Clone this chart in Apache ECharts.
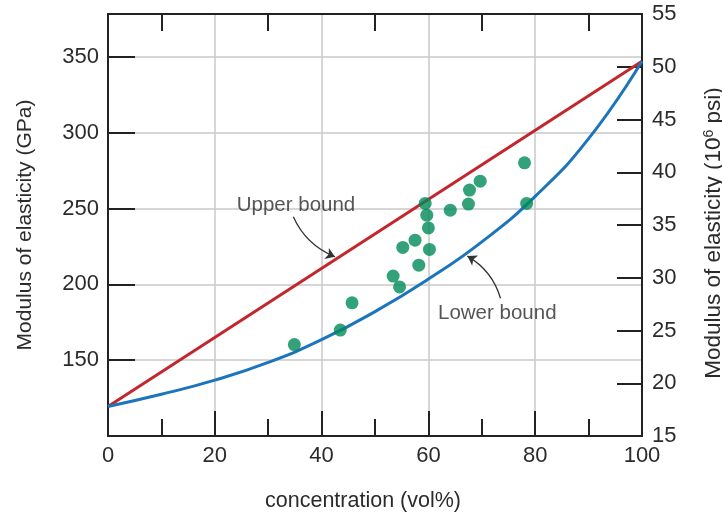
<!DOCTYPE html>
<html><head><meta charset="utf-8">
<script src="https://cdn.jsdelivr.net/npm/echarts@6/dist/echarts.min.js"></script>
<style>html,body{margin:0;padding:0;background:#fff}#c{width:722px;height:516px}</style>
</head><body><div id="c"></div>
<script>
// Upper bound (straight line) read at its ends
const upperX = [0, 100];
const upperGPa = [119.5, 347];
// Lower bound curve
const lowerX = [0, 10, 20, 30, 40, 50, 60, 70, 80, 90, 100];
const lowerGPa = [119.5, 127.5, 136.8, 148.5, 163.5, 182, 203.5, 228, 258, 296, 347];
// Experimental points
const pointX = [34.9, 43.5, 45.7, 53.4, 54.6, 55.2, 57.5, 58.2, 59.4, 59.7, 60.0, 60.2, 64.1, 67.5, 67.7, 69.7, 78.0, 78.4];
const pointGPa = [160.3, 169.8, 187.8, 205.4, 198.3, 224.3, 229.1, 212.6, 253.3, 245.6, 237.2, 223, 248.9, 252.9, 262.1, 268, 280.1, 253.3];
// Annotations
const noteText = ['Upper bound', 'Lower bound'];
const notePos = [[35.2, 252], [72.9, 181]];
const arrowFrom = [[34.7, 244.5], [73.5, 190.8]];
const arrowTo = [[42.5, 218.1], [67.3, 218.6]];
// Tick labels
const gpaTicks = [150, 200, 250, 300, 350];
const psiTicks = [15, 20, 25, 30, 35, 40, 45, 50, 55];
const xTicks = [0, 20, 40, 60, 80, 100];

const FONT = "'Liberation Sans', Arial, sans-serif";
const AX = '#222';
const TXT = '#2b2b2b';
const axisLine = {show: true, onZero: false, lineStyle: {color: AX, width: 2}};

const chart = echarts.init(document.getElementById('c'), null, {renderer: 'canvas'});
chart.setOption({
  animation: false,
  backgroundColor: '#fff',
  grid: {left: 108, right: 80, top: 14, bottom: 80, containLabel: false, outerBoundsMode: 'none'},
  xAxis: [{
    type: 'value', position: 'bottom', min: xTicks[0], max: xTicks[xTicks.length - 1], interval: 20,
    axisLine: axisLine,
    axisTick: {show: true, inside: true, length: 25, lineStyle: {color: AX, width: 2}},
    minorTick: {show: true, splitNumber: 2, length: 17, lineStyle: {color: AX, width: 2}},
    axisLabel: {color: TXT, fontSize: 22, margin: 9, fontFamily: FONT,
      formatter: v => xTicks.includes(v) ? String(v) : ''},
    splitLine: {show: true, lineStyle: {color: '#c8c8c8', width: 1.5}},
    minorSplitLine: {show: false},
    name: 'concentration (vol%)', nameLocation: 'middle', nameGap: 54,
    nameTextStyle: {color: TXT, fontSize: 21.5, fontFamily: FONT, padding: [0, 24, 0, 0]}
  }, {
    type: 'value', position: 'top', min: 0, max: 100, interval: 20,
    axisLine: axisLine,
    axisTick: {show: false, inside: true},
    minorTick: {show: true, splitNumber: 2, length: 17, lineStyle: {color: AX, width: 2}},
    axisLabel: {show: false},
    splitLine: {show: false}
  }],
  yAxis: [{
    type: 'value', position: 'left', min: 100, max: 378.2, interval: 50,
    axisLine: axisLine,
    axisTick: {show: true, inside: true, length: 27, lineStyle: {color: AX, width: 2}},
    axisLabel: {color: TXT, fontSize: 22, margin: 9, fontFamily: FONT, showMinLabel: false, showMaxLabel: false,
      formatter: v => gpaTicks.includes(v) ? String(v) : ''},
    splitLine: {show: true, lineStyle: {color: '#c8c8c8', width: 1.5}},
    name: 'Modulus of elasticity (GPa)', nameLocation: 'middle', nameGap: 72, nameRotate: 90,
    nameTextStyle: {color: TXT, fontSize: 21, fontFamily: FONT}
  }, {
    type: 'value', position: 'right', min: 15, max: 55, interval: 5,
    axisLine: axisLine,
    axisTick: {show: true, inside: true, length: 25, lineStyle: {color: AX, width: 2}},
    axisLabel: {color: TXT, fontSize: 22, margin: 10, fontFamily: FONT,
      formatter: v => psiTicks.includes(v) ? String(v) : ''},
    splitLine: {show: false},
    name: '{a|Modulus of elasticity (10}{s|6}{a| psi)}', nameLocation: 'middle', nameGap: 60, nameRotate: 90,
    nameTextStyle: {color: TXT, fontSize: 22.5, fontFamily: FONT, padding: [0, 16, 0, 0],
      rich: {a: {color: TXT, fontSize: 22.5, fontFamily: FONT},
             s: {color: TXT, fontSize: 14, fontFamily: FONT, verticalAlign: 'top', padding: [0, 0, 10, 0]}}}
  }],
  series: [{
    name: 'Upper bound', type: 'line', xAxisIndex: 0, yAxisIndex: 0,
    data: upperX.map((x, i) => [x, upperGPa[i]]),
    showSymbol: false, lineStyle: {color: '#c1272d', width: 3}, z: 3
  }, {
    name: 'Lower bound', type: 'line', xAxisIndex: 0, yAxisIndex: 0, smooth: 0.5,
    data: lowerX.map((x, i) => [x, lowerGPa[i]]),
    showSymbol: false, lineStyle: {color: '#1b75bc', width: 3}, z: 3
  }, {
    name: 'Data', type: 'scatter', xAxisIndex: 0, yAxisIndex: 0,
    data: pointX.map((x, i) => [x, pointGPa[i]]),
    symbolSize: 13, itemStyle: {color: '#008a58'}, z: 5
  }, {
    name: 'Arrows', type: 'lines', coordinateSystem: 'cartesian2d', xAxisIndex: 0, yAxisIndex: 0,
    data: arrowFrom.map((p, i) => ({coords: [p, arrowTo[i]]})),
    symbol: ['none', 'arrow'], symbolSize: 9,
    lineStyle: {color: '#333', width: 1.3, curveness: -0.2, opacity: 1}, z: 4
  }, {
    name: 'Notes', type: 'scatter', xAxisIndex: 0, yAxisIndex: 0,
    data: notePos.map((p, i) => ({name: noteText[i], value: p})),
    symbolSize: 0, silent: true,
    label: {show: true, position: 'inside', formatter: p => p.name, color: TXT, fontSize: 20.5, fontFamily: FONT},
    z: 6
  }]
});
</script></body></html>
